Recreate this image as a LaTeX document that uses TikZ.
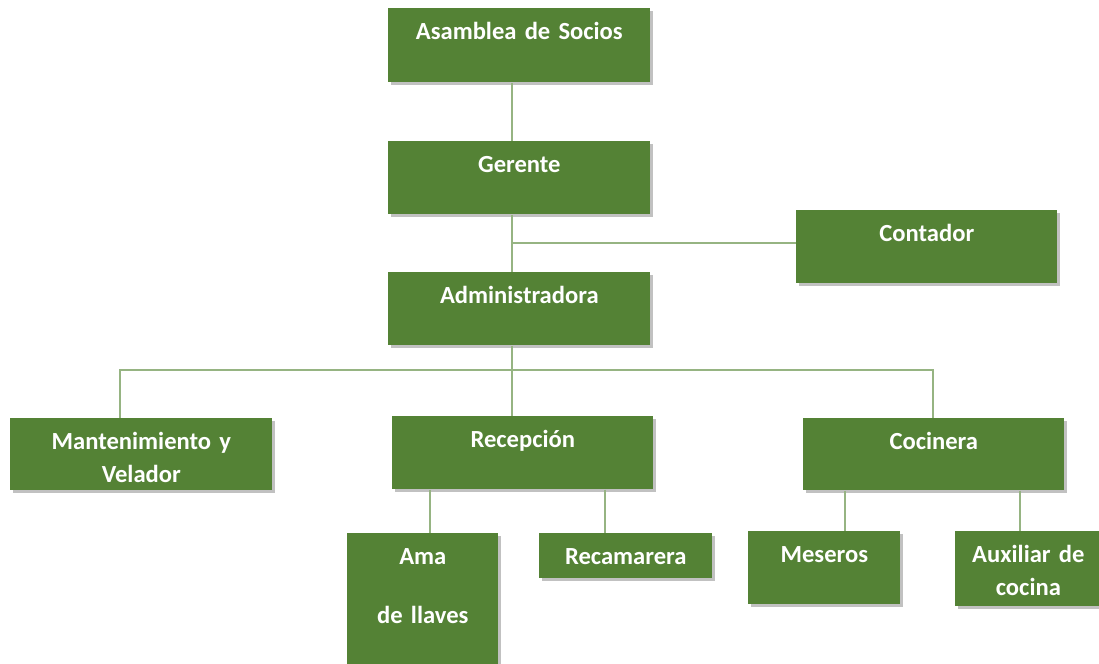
\documentclass[tikz,border=0pt]{standalone}
\usepackage{fontspec}
\setmainfont{Carlito}
\usepackage{tikz}
\usetikzlibrary{arrows.meta, positioning, shadows, calc}
\usepackage{xcolor}
\definecolor{cargogreen}{RGB}{84, 130, 53}
\definecolor{linkgreen}{RGB}{150, 180, 130}

\begin{document}
\begin{tikzpicture}[
        x=0.02cm, y=-0.02cm,
        cargo/.style={fill=cargogreen, anchor=north west, inner sep=0pt,
                    align=center, text=white, text height=0.63cm,
                    font=\fontsize{14}{18.7}\selectfont\bfseries,
                    drop shadow={shadow xshift=0.05cm, shadow yshift=-0.06cm,
                                 opacity=0.35, fill=black!70}},
        link/.style={draw=linkgreen, line width=1.2pt},
      ]
        \useasboundingbox (0,0) rectangle (1099,663);

        % top of the chart
        \node[cargo, text width=5.24cm, text depth=0.85cm] (asamblea) at (388,8)
          {Asamblea de Socios};
        \node[cargo, text width=5.24cm, text depth=0.83cm] (gerente) at (388,141)
          {Gerente};
        \node[cargo, text width=5.22cm, text depth=0.83cm] (contador) at (796,210)
          {Contador};
        \node[cargo, text width=5.24cm, text depth=0.83cm] (admin) at (388,272)
          {Administradora};

        % second level
        \node[cargo, text width=5.24cm, text depth=0.81cm] (mant) at (10,418)
          {Mantenimiento y\\Velador};
        \node[cargo, text width=5.22cm, text depth=0.83cm] (recepcion) at (392,416)
          {Recepción};
        \node[cargo, text width=5.22cm, text depth=0.81cm] (cocinera) at (803,418)
          {Cocinera};

        % third level
        \node[cargo, text width=3.02cm, text depth=2.2cm] (ama) at (347,533)
          {Ama\\[14.8pt]de llaves};
        \node[cargo, text width=3.46cm, text depth=0.27cm] (recamarera) at (539,533)
          {Recamarera};
        \node[cargo, text width=3.04cm, text depth=0.83cm] (meseros) at (748,531)
          {Meseros};
        \node[cargo, text width=2.92cm, text depth=0.87cm] (auxiliar) at (955,531)
          {Auxiliar de\\cocina};

        \coordinate (trunk) at (512,0);
        \coordinate (c-cont) at (0,243);
        \coordinate (c-mant) at (120,370);
        \coordinate (c-coc) at (933,370);
        \coordinate (c-ama) at (430,0);
        \coordinate (c-rec) at (605,0);
        \coordinate (c-mes) at (845,0);
        \coordinate (c-aux) at (1020,0);

        \draw[link] (asamblea.south -| trunk) -- (gerente.north -| trunk);
        \draw[link] (gerente.south -| trunk) -- (admin.north -| trunk);
        \draw[link] (c-cont -| trunk) -- (c-cont -| contador.west);
        \draw[link] (admin.south -| trunk) -- (recepcion.north -| trunk);
        \draw[link] (mant.north -| c-mant) -- (c-mant) -- (c-coc)
          -- (cocinera.north -| c-coc);
        \draw[link] (recepcion.south -| c-ama) -- (ama.north -| c-ama);
        \draw[link] (recepcion.south -| c-rec) -- (recamarera.north -| c-rec);
        \draw[link] (cocinera.south -| c-mes) -- (meseros.north -| c-mes);
        \draw[link] (cocinera.south -| c-aux) -- (auxiliar.north -| c-aux);
      \end{tikzpicture}
\end{document}
